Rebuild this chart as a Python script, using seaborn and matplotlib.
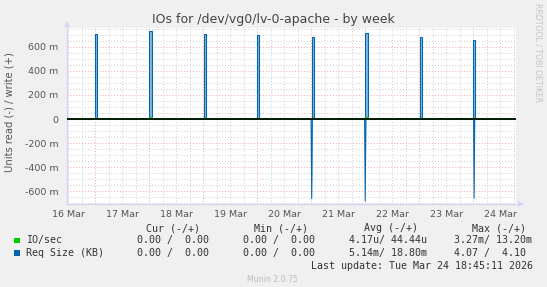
import numpy as np
import pandas as pd
import seaborn as sns
import matplotlib
matplotlib.use("Agg")
import matplotlib.pyplot as plt
from matplotlib.ticker import MultipleLocator, FuncFormatter

# ---------------- data ----------------
# x axis: days since 16 Mar 00:00
day_labels = ["16 Mar", "17 Mar", "18 Mar", "19 Mar", "20 Mar",
              "21 Mar", "22 Mar", "23 Mar", "24 Mar"]
x_start, x_end = 0.476, 8.78

# daily spikes of "Req Size (KB)" (values in milli-units)
spike_day       = [1, 2, 3, 4, 5, 6, 7, 8]
spike_start_min = [-21, 5, 5, -8, 5, -13, 13, -8]      # minutes from midnight
spike_end_min   = [45, 59, 59, 45, 67, 72, 67, 32]
write_peak      = [706, 728, 708, 700, 680, 714, 680, 652]

read_day        = [5, 6, 8]
read_start_min  = [-8, -21, 5]
read_end_min    = [27, 14, 35]
read_peak       = [661, 680, 656]

# IO/sec (tiny values, milli)
io_write_peak   = [12, 13, 12, 12, 12, 13, 12, 11]
io_read_peak    = [3, 3, 3]

# legend table
legend_names = ["IO/sec", "Req Size (KB)"]
cur_vals = ["0.00 /  0.00", "0.00 /  0.00"]
min_vals = ["0.00 /  0.00", "0.00 /  0.00"]
avg_vals = ["4.17u/ 44.44u", "5.14m/ 18.80m"]
max_vals = ["3.27m/ 13.20m", "4.07 /  4.10"]
last_update = "Last update: Tue Mar 24 18:45:11 2026"

GREEN = "#00CC00"
BLUE = "#0066B3"


def build(days, s_min, e_min, peaks, sign, tri=False):
    xs, ys = [x_start], [0.0]
    for d, s, e, p in zip(days, s_min, e_min, peaks):
        a, b = d + s / 1440.0, d + e / 1440.0
        if tri:
            xs += [a, (a + b) / 2, b]
            ys += [0.0, sign * p, 0.0]
        else:
            xs += [a, a, b, b]
            ys += [0.0, sign * p, sign * p, 0.0]
    xs.append(x_end)
    ys.append(0.0)
    return pd.DataFrame({"t": xs, "v": ys})


df_w = build(spike_day, spike_start_min, spike_end_min, write_peak, 1)
df_r = build(read_day, read_start_min, read_end_min, read_peak, -1, tri=True)
df_iow = build(spike_day, spike_start_min, spike_end_min, io_write_peak, 1)
df_ior = build(read_day, read_start_min, read_end_min, io_read_peak, -1, tri=True)

# ---------------- figure ----------------
sns.set_theme(style="white")
plt.rcParams["font.family"] = ["DejaVu Sans"]

fig = plt.figure(figsize=(5.47, 2.87), dpi=100, facecolor="#F0F0F0")
ax = fig.add_axes([67 / 547, 1 - 204 / 287, 448.5 / 547, 176 / 287])
ax.set_facecolor("white")

# fills
ax.fill_between(df_w["t"], df_w["v"], 0, color="#7DB4DE", lw=0, zorder=2)
ax.fill_between(df_r["t"], df_r["v"], 0, color="#7DB4DE", lw=0, zorder=2)

sns.lineplot(data=df_w, x="t", y="v", sort=False, estimator=None,
             color=BLUE, lw=0.75, ax=ax, zorder=3)
sns.lineplot(data=df_r, x="t", y="v", sort=False, estimator=None,
             color=BLUE, lw=0.75, ax=ax, zorder=3)
sns.lineplot(data=df_iow, x="t", y="v", sort=False, estimator=None,
             color=GREEN, lw=0.7, ax=ax, zorder=3.5)
sns.lineplot(data=df_ior, x="t", y="v", sort=False, estimator=None,
             color=GREEN, lw=0.7, ax=ax, zorder=3.5)
ax.axhline(0, color="black", lw=1.2, zorder=5)

ax.set_xlim(x_start, x_end)
ax.set_ylim(-705, 755)
ax.set_xlabel("")
ax.set_ylabel("")

# ticks & grid
ax.xaxis.set_major_locator(MultipleLocator(1))
ax.xaxis.set_minor_locator(MultipleLocator(0.25))
ax.xaxis.set_major_formatter(FuncFormatter(lambda x, p: ""))


def day_fmt(x, p):
    i = int(np.floor(x))
    if abs(x - i - 0.5) < 1e-6 and 0 <= i < len(day_labels):
        return day_labels[i]
    return ""


ax.xaxis.set_minor_formatter(FuncFormatter(day_fmt))
ax.yaxis.set_major_locator(MultipleLocator(200))
ax.yaxis.set_minor_locator(MultipleLocator(50))
ax.yaxis.set_major_formatter(
    FuncFormatter(lambda v, p: "0" if abs(v) < 1e-9 else f"{v:.0f} m"))

ax.grid(which="major", color="#F0A6A6", linestyle=(0, (1, 2)), lw=0.7, zorder=1)
ax.grid(which="minor", color="#CDCDCD", linestyle=(0, (1, 2)), lw=0.7, zorder=1)
ax.set_axisbelow(True)

ax.tick_params(axis="both", which="both", labelsize=6.8, labelcolor="#555555")
ax.tick_params(axis="x", which="major", length=2.5, color="#F0A6A6", pad=2)
ax.tick_params(axis="x", which="minor", length=2.5, color="#CDCDCD", pad=2)
ax.tick_params(axis="y", which="major", length=2, color="#C8C8F0", pad=4)
ax.tick_params(axis="y", which="minor", length=0)

for s in ["top", "right"]:
    ax.spines[s].set_visible(False)
for s in ["left", "bottom"]:
    ax.spines[s].set_color("#D4D4F4")
    ax.spines[s].set_linewidth(1.0)

# axis arrows
ax.plot([0], [1 + 4 / 176], marker="^", ms=3.8, mew=0, color="#D4D4F4",
        transform=ax.transAxes, clip_on=False)
ax.plot([1 + 5 / 448.5], [0], marker=">", ms=3.8, mew=0, color="#D4D4F4",
        transform=ax.transAxes, clip_on=False)

# texts
fig.text(273 / 547, 1 - 19.5 / 287, "IOs for /dev/vg0/lv-0-apache - by week",
         ha="center", va="center", fontsize=9.0, color="#444444")
fig.text(10 / 547, 1 - 112 / 287, "Units read (-) / write (+)", rotation=90,
         ha="center", va="center", fontsize=7.2, color="#555555")
fig.text(538 / 547, 1 - 53 / 287, "RRDTOOL / TOBI OETIKER", rotation=270,
         ha="center", va="center", fontsize=5.6, color="#C4C4C4")

mono = dict(family="DejaVu Sans Mono", fontsize=7.2, color="#333333", va="center")
W, H = 547.0, 287.0
hy = 1 - 228.3 / H
fig.text(200 / W, hy, "Cur (-/+)", ha="right", **mono)
fig.text(308 / W, hy, "Min (-/+)", ha="right", **mono)
fig.text(417.5 / W, hy, "Avg (-/+)", ha="right", **mono)
fig.text(525.6 / W, hy, "Max (-/+)", ha="right", **mono)

row_y = [240.5, 253.0]
for i, (nm, col) in enumerate(zip(legend_names, [GREEN, BLUE])):
    y = 1 - row_y[i] / H
    fig.patches.append(plt.Rectangle((14 / W, y - 2.8 / H), 5.5 / W, 5.5 / H,
                                     transform=fig.transFigure,
                                     color=col, lw=0))
    fig.text(26 / W, y, nm, ha="left", **mono)
    fig.text(137 / W, y, cur_vals[i], ha="left", **mono)
    fig.text(243 / W, y, min_vals[i], ha="left", **mono)
    fig.text(349 / W, y, avg_vals[i], ha="left", **mono)
    fig.text(454.5 / W, y, max_vals[i], ha="left", **mono)

fig.text(532.6 / W, 1 - 266 / H, last_update, ha="right", **mono)
fig.text(272.7 / W, 1 - 279 / H, "Munin 2.0.75", ha="center", va="center",
         fontsize=5.6, color="#BBBBBB")

fig.savefig("out.png", dpi=100, facecolor=fig.get_facecolor())
